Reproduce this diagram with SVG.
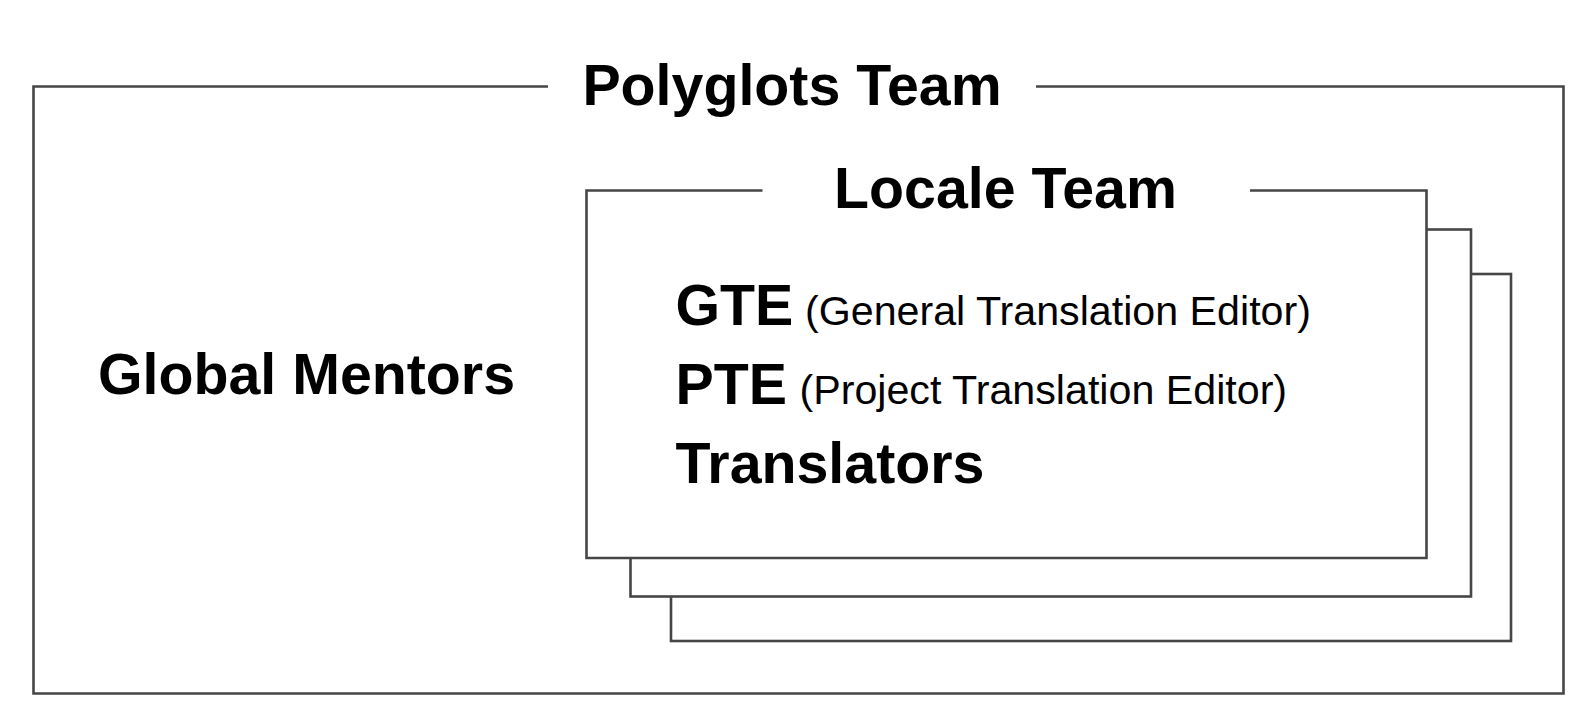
<svg xmlns="http://www.w3.org/2000/svg" width="1578" height="714" viewBox="0 0 1578 714">
<style>
.frame{fill:none;stroke:#464646;stroke-width:2.6;stroke-linejoin:miter}
.bg{fill:#ffffff;stroke:none}
.card{fill:#ffffff;stroke:#464646;stroke-width:2.6}
.title{font-family:"Liberation Sans",Arial,sans-serif;font-weight:bold;font-size:57.3px;fill:#000000}
.role{font-family:"Liberation Sans",Arial,sans-serif;font-weight:bold;font-size:57.3px;fill:#000000}
.desc{font-family:"Liberation Sans",Arial,sans-serif;font-weight:normal;font-size:41.2px;fill:#000000}
</style>
<rect width="1578" height="714" fill="#ffffff"/>
<g id="polyglots-team">
<path class="frame" d="M548,86.5 H33.5 V693.5 H1563.5 V86.5 H1036"/>
<text class="title" x="792" y="105" text-anchor="middle">Polyglots Team</text>
</g>
<g id="global-mentors">
<text class="title" x="98" y="393.5">Global Mentors</text>
</g>
<g id="locale-team-stack-3">
<rect class="card" x="671" y="274" width="840" height="367"/>
</g>
<g id="locale-team-stack-2">
<rect class="card" x="630.5" y="229.5" width="840.5" height="367"/>
</g>
<g id="locale-team">
<rect class="bg" x="586" y="190" width="841" height="368"/>
<path class="frame" d="M762.5,190.5 H586.5 V558 H1426.5 V190.5 H1250"/>
<text class="title" x="1005.5" y="208" text-anchor="middle">Locale Team</text>
<text x="675.5" y="324.5"><tspan class="role">GTE</tspan><tspan class="desc" x="805">(General Translation Editor)</tspan></text>
<text x="675.5" y="404"><tspan class="role">PTE</tspan><tspan class="desc" x="799.5">(Project Translation Editor)</tspan></text>
<text class="role" x="675.5" y="483">Translators</text>
</g>
<g id="connectors"/>
</svg>
